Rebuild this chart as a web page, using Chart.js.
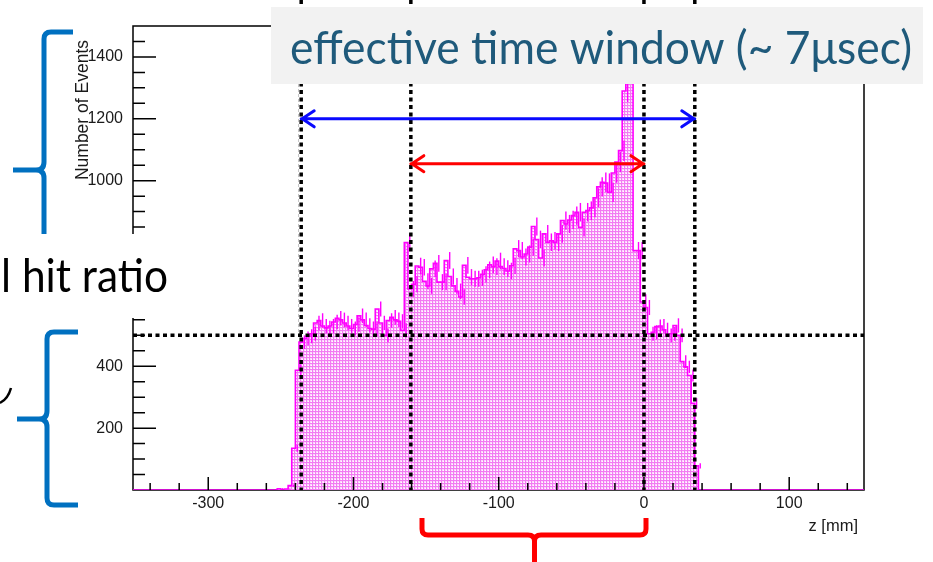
<!DOCTYPE html>
<html>
<head>
<meta charset="utf-8">
<title>Histograma z</title>
<script src="https://cdn.jsdelivr.net/npm/chart.js@4.4.1/dist/chart.umd.min.js"></script>
<style>
  html, body { margin: 0; padding: 0; background: #ffffff; }
  #graph { width: 933px; height: 562px; }
</style>
</head>
<body>
<div id="graph"><canvas id="grafico" width="933" height="562"></canvas></div>
<script>
// histograma de z [mm], bins de 2.5 mm desde -255
var inicioBins = -255;
var anchoBin = 2.5;
var conteos = [
  0, 0, 4, 0, 3, 14, 135, 387, 478, 490,
  497, 505, 540, 548, 530, 524, 530, 543, 555, 550,
  540, 530, 522, 535, 563, 550, 532, 522, 520, 585,
  540, 500, 548, 558, 550, 545, 516, 800, 650, 665,
  724, 720, 675, 660, 715, 733, 672, 672, 742, 690,
  660, 642, 624, 726, 688, 683, 683, 686, 697, 712,
  728, 722, 740, 722, 716, 708, 725, 780, 774, 753,
  763, 785, 852, 810, 750, 828, 801, 806, 801, 828,
  871, 860, 873, 887, 898, 849, 898, 903, 912, 945,
  980, 995, 992, 962, 1025, 1060, 1097, 1290, 1390, 1430,
  774, 774, 608, 590, 505, 510, 528, 530, 518, 500,
  505, 532, 500, 415, 398, 370, 280, 78, 0
];

var rangoZ = [-351.8, 151.5];
var rangoY = [0, 1500];
var ticksZ = [-300, -200, -100, 0, 100];
var ticksY = [200, 400, 600, 800, 1000, 1200, 1400];
var pasoTicksZ = 100;
var pasoTicksY = 200;

// lineas punteadas y flechas
var lineasZ = [-236, -160.5, 0, 35];
var lineaConteo = 500;
var flechaAzul = [-236, 35, 1200];
var flechaRoja = [-160.5, 0, 1055];

var tituloX = 'z [mm]';
var tituloY = 'Number of Events';
var textoVentana = 'effective time window (~ 7\u03bcsec)';
var textoRatio = 'l hit ratio';

var fuenteTicks = { family: 'Liberation Sans', size: 16 };

function puntosHistograma() {
  var puntos = [{x: rangoZ[0], y: 0}];
  for (var i = 0; i < conteos.length; i++) {
    puntos.push({x: inicioBins + i * anchoBin, y: conteos[i]});
  }
  puntos.push({x: inicioBins + conteos.length * anchoBin, y: 0});
  puntos.push({x: rangoZ[1], y: 0});
  return puntos;
}

function patronPuntos(contexto) {
  var c = document.createElement('canvas');
  c.width = 3;
  c.height = 3;
  var p = c.getContext('2d');
  p.fillStyle = '#fcd8fc';
  p.fillRect(0, 0, 3, 3);
  p.fillStyle = '#f27cf2';
  p.fillRect(0, 0, 3, 1);
  p.fillRect(0, 0, 1, 3);
  p.fillStyle = '#ffffff';
  p.fillRect(2, 2, 1, 1);
  return contexto.createPattern(c, 'repeat');
}

function textoAjustado(ctx, texto, x, y, ancho) {
  var w = ctx.measureText(texto).width;
  ctx.save();
  ctx.translate(x, y);
  ctx.scale(ancho / w, 1);
  ctx.fillText(texto, 0, 0);
  ctx.restore();
}

function flecha(ctx, x1, x2, y, color) {
  ctx.save();
  ctx.strokeStyle = color;
  ctx.lineWidth = 3;
  ctx.lineCap = 'round';
  ctx.beginPath();
  ctx.moveTo(x1, y);
  ctx.lineTo(x2, y);
  ctx.moveTo(x1 + 13, y - 8);
  ctx.lineTo(x1 + 1, y);
  ctx.lineTo(x1 + 13, y + 8);
  ctx.moveTo(x2 - 13, y - 8);
  ctx.lineTo(x2 - 1, y);
  ctx.lineTo(x2 - 13, y + 8);
  ctx.stroke();
  ctx.restore();
}

function ticksFijos(lista) {
  return function(s) {
    s.ticks = lista.map(function(v) { return { value: v }; });
  };
}

var dibujos = {
  id: 'dibujos',
  beforeDatasetsDraw: function(chart) {
    var ctx = chart.ctx;
    var area = chart.chartArea;
    ctx.save();
    ctx.strokeStyle = '#000000';
    ctx.lineWidth = 1.5;
    ctx.strokeRect(area.left, area.top, area.right - area.left, area.bottom - area.top);
    ctx.restore();
  },
  afterDatasetsDraw: function(chart) {
    var ctx = chart.ctx;
    var area = chart.chartArea;
    var x = chart.scales.x;
    var y = chart.scales.y;

    // barras de error (raiz de N)
    ctx.save();
    ctx.strokeStyle = '#ff00ff';
    ctx.lineWidth = 1.4;
    for (var i = 0; i < conteos.length; i++) {
      if (conteos[i] <= 0) continue;
      var xc = x.getPixelForValue(inicioBins + (i + 0.5) * anchoBin);
      var e = Math.sqrt(conteos[i]);
      ctx.beginPath();
      ctx.moveTo(xc, y.getPixelForValue(conteos[i] - e));
      ctx.lineTo(xc, y.getPixelForValue(conteos[i] + e));
      ctx.stroke();
    }
    ctx.restore();

    // ticks hacia adentro
    ctx.save();
    ctx.strokeStyle = '#000000';
    ctx.lineWidth = 1.5;
    ctx.beginPath();
    for (var v = 50; v < rangoY[1]; v += 50) {
      var py = y.getPixelForValue(v);
      ctx.moveTo(area.left, py);
      ctx.lineTo(area.left + (v % pasoTicksY === 0 ? 23 : 12), py);
    }
    for (var z = -340; z <= 140; z += 20) {
      var px = x.getPixelForValue(z);
      ctx.moveTo(px, area.bottom);
      ctx.lineTo(px, area.bottom - (z % pasoTicksZ === 0 ? 13 : 7));
    }
    ctx.stroke();
    ctx.restore();
  },
  afterDraw: function(chart) {
    var ctx = chart.ctx;
    var area = chart.chartArea;
    var x = chart.scales.x;
    var y = chart.scales.y;

    // titulos de ejes
    ctx.save();
    ctx.fillStyle = '#1a1a1a';
    ctx.textBaseline = 'alphabetic';
    ctx.textAlign = 'right';
    ctx.font = '16.5px "Liberation Sans"';
    ctx.fillText(tituloX, area.right - 6, 531);
    ctx.translate(88, area.top + 14);
    ctx.rotate(-Math.PI / 2);
    ctx.font = '17.5px "Liberation Sans"';
    ctx.fillText(tituloY, 0, 0);
    ctx.restore();

    // lineas punteadas
    ctx.save();
    ctx.strokeStyle = '#000000';
    ctx.lineWidth = 3.5;
    ctx.setLineDash([4, 3.5]);
    lineasZ.forEach(function(zz) {
      var pz = x.getPixelForValue(zz);
      ctx.beginPath();
      ctx.moveTo(pz, 0);
      ctx.lineTo(pz, area.bottom);
      ctx.stroke();
    });
    var pc = y.getPixelForValue(lineaConteo);
    ctx.beginPath();
    ctx.moveTo(area.left, pc);
    ctx.lineTo(area.right, pc);
    ctx.stroke();
    ctx.restore();

    flecha(ctx, x.getPixelForValue(flechaAzul[0]), x.getPixelForValue(flechaAzul[1]), y.getPixelForValue(flechaAzul[2]), '#0a0aff');
    flecha(ctx, x.getPixelForValue(flechaRoja[0]), x.getPixelForValue(flechaRoja[1]), y.getPixelForValue(flechaRoja[2]), '#ff0000');

    // llaves azules
    ctx.save();
    ctx.strokeStyle = '#0070c0';
    ctx.lineWidth = 5;
    ctx.lineJoin = 'round';
    ctx.beginPath();
    ctx.moveTo(73, 32);
    ctx.lineTo(51, 32);
    ctx.quadraticCurveTo(44, 32, 44, 39);
    ctx.lineTo(44, 162);
    ctx.quadraticCurveTo(44, 170, 36, 170);
    ctx.lineTo(13, 170);
    ctx.moveTo(36, 170);
    ctx.quadraticCurveTo(44, 170, 44, 178);
    ctx.lineTo(44, 245);
    ctx.stroke();
    ctx.beginPath();
    ctx.moveTo(78, 332);
    ctx.lineTo(54, 332);
    ctx.quadraticCurveTo(47, 332, 47, 339);
    ctx.lineTo(47, 411);
    ctx.quadraticCurveTo(47, 419, 39, 419);
    ctx.lineTo(17, 419);
    ctx.moveTo(39, 419);
    ctx.quadraticCurveTo(47, 419, 47, 427);
    ctx.lineTo(47, 498);
    ctx.quadraticCurveTo(47, 505, 54, 505);
    ctx.lineTo(78, 505);
    ctx.stroke();

    // llave roja
    ctx.strokeStyle = '#ff0000';
    ctx.beginPath();
    ctx.moveTo(422, 518);
    ctx.lineTo(422, 529);
    ctx.quadraticCurveTo(422, 535, 428, 535);
    ctx.lineTo(528, 535);
    ctx.quadraticCurveTo(534.5, 535, 534.5, 541);
    ctx.lineTo(534.5, 562);
    ctx.moveTo(534.5, 541);
    ctx.quadraticCurveTo(534.5, 535, 541, 535);
    ctx.lineTo(640, 535);
    ctx.quadraticCurveTo(646, 535, 646, 529);
    ctx.lineTo(646, 518);
    ctx.stroke();

    // trazo negro cortado a la izquierda
    ctx.strokeStyle = '#000000';
    ctx.lineWidth = 2.5;
    ctx.beginPath();
    ctx.moveTo(0, 403);
    ctx.quadraticCurveTo(8, 399, 11, 388);
    ctx.stroke();
    ctx.restore();

    // caja blanca con texto
    ctx.save();
    ctx.fillStyle = '#ffffff';
    ctx.fillRect(0, 234, 297, 84);
    ctx.fillStyle = '#000000';
    ctx.font = '47px Lato';
    ctx.textAlign = 'left';
    ctx.textBaseline = 'alphabetic';
    textoAjustado(ctx, textoRatio, 1, 292, 167);
    ctx.strokeStyle = '#c4c4c4';
    ctx.lineWidth = 1;
    ctx.setLineDash([3, 2]);
    ctx.beginPath();
    ctx.moveTo(298.5, 84);
    ctx.lineTo(298.5, 333);
    ctx.stroke();
    ctx.restore();

    // caja gris con texto
    ctx.save();
    ctx.fillStyle = '#f2f2f2';
    ctx.fillRect(271, 7, 652, 77);
    ctx.fillStyle = '#1f5a7b';
    ctx.font = '47px Lato';
    ctx.textAlign = 'left';
    ctx.textBaseline = 'alphabetic';
    textoAjustado(ctx, textoVentana, 290, 64, 622);
    ctx.restore();
  }
};

var contexto = document.getElementById('grafico').getContext('2d');
var chart = new Chart(contexto, {
  type: 'line',
  data: {
    datasets: [{
      data: puntosHistograma(),
      stepped: 'after',
      borderColor: '#ff00ff',
      borderWidth: 1.6,
      backgroundColor: patronPuntos(contexto),
      fill: 'origin',
      pointRadius: 0
    }]
  },
  options: {
    responsive: false,
    animation: false,
    events: [],
    layout: { padding: { left: 0, right: 69, top: 26, bottom: 0 } },
    scales: {
      x: {
        type: 'linear',
        min: rangoZ[0],
        max: rangoZ[1],
        grid: { display: false, drawTicks: false },
        border: { display: false },
        afterBuildTicks: ticksFijos(ticksZ),
        ticks: {
          padding: 4, maxRotation: 0, autoSkip: false,
          color: '#1a1a1a', font: fuenteTicks,
          callback: function(v) { return String(v); }
        },
        afterFit: function(s) { s.height = 72; }
      },
      y: {
        type: 'linear',
        min: rangoY[0],
        max: rangoY[1],
        grid: { display: false, drawTicks: false },
        border: { display: false },
        afterBuildTicks: ticksFijos(ticksY),
        ticks: {
          padding: 10, autoSkip: false,
          color: '#1a1a1a', font: fuenteTicks,
          callback: function(v) { return String(v); }
        },
        afterFit: function(s) { s.width = 133; }
      }
    },
    plugins: { legend: { display: false }, tooltip: { enabled: false } }
  },
  plugins: [dibujos]
});
</script>
</body>
</html>
